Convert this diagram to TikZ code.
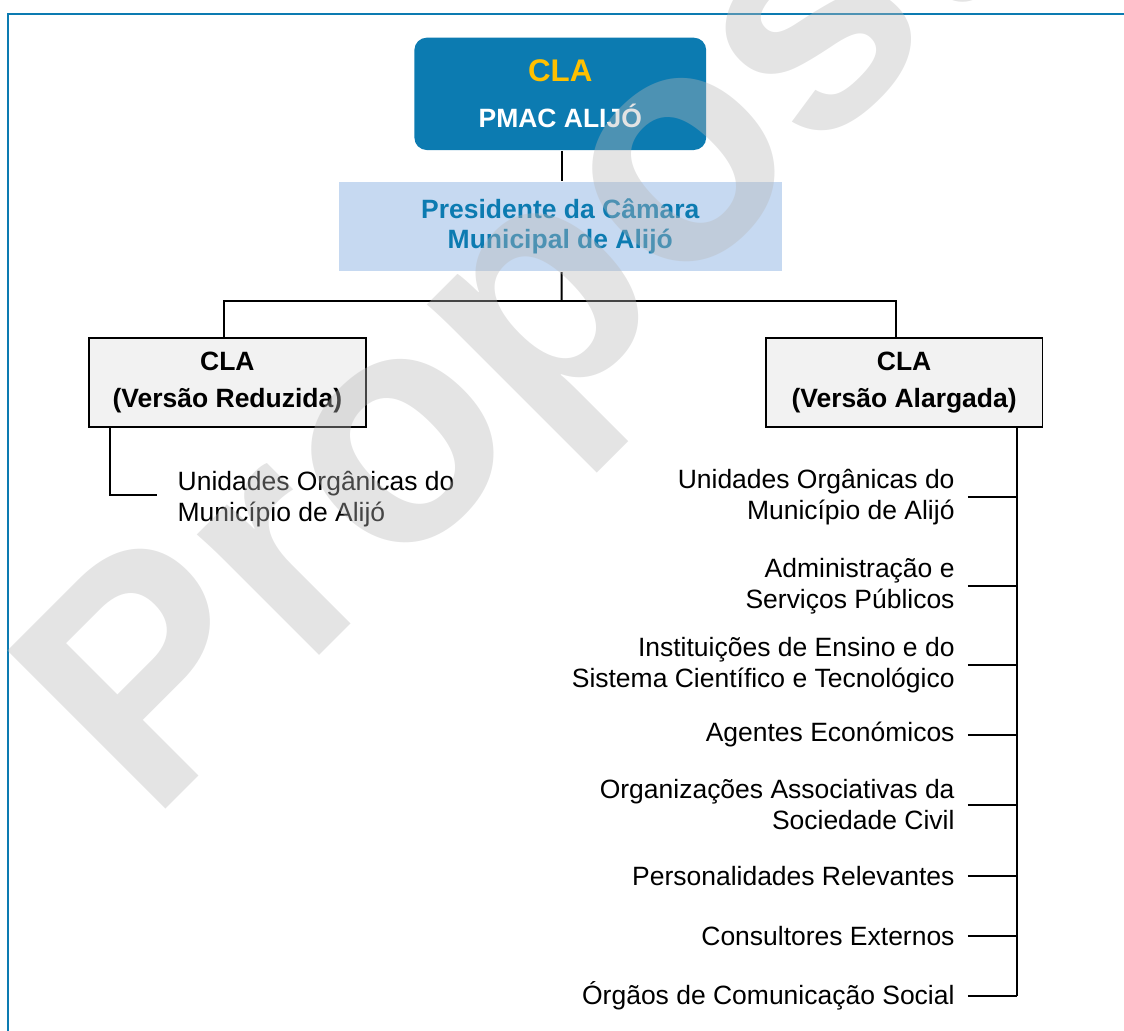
\documentclass[tikz,border=0pt]{standalone}
\usepackage{fontspec}
\setmainfont{Liberation Sans}
\usetikzlibrary{positioning}

\definecolor{clablue}{RGB}{12,123,177}
\definecolor{clayellow}{RGB}{255,192,0}
\definecolor{presfill}{RGB}{198,217,241}
\definecolor{boxfill}{RGB}{242,242,242}
\definecolor{wmgray}{RGB}{184,184,184}

\tikzset{
  topbox/.style={fill=clablue, text=white, rounded corners=0.18cm, align=center,
    minimum width=4.26cm, minimum height=1.64cm, font=\bfseries\fontsize{11}{13}\selectfont},
  presbox/.style={fill=presfill, text=clablue, align=center,
    minimum width=6.47cm, minimum height=1.30cm, font=\bfseries\fontsize{11}{12.5}\selectfont},
  versbox/.style={draw, fill=boxfill, align=center, line width=0.8pt,
    minimum width=4.04cm, minimum height=1.30cm, font=\bfseries\fontsize{11}{15.4}\selectfont},
  memberL/.style={anchor=west, align=left, inner xsep=0.29cm, inner ysep=0,
    font=\fontsize{11}{12.9}\selectfont},
  memberR/.style={anchor=east, align=right, inner xsep=0.18cm, inner ysep=0,
    font=\fontsize{11}{12.9}\selectfont},
  watermark/.style={rotate=45, anchor=base west, inner sep=0, text=wmgray,
    text opacity=0.38, font=\bfseries\fontsize{135}{135}\selectfont}
}

\begin{document}
\begin{tikzpicture}[line width=0.8pt]
  \useasboundingbox (0,0) rectangle (16.41,-15.04);
  \clip (0,0) rectangle (16.41,-15.04);

  % Page frame
  \draw[clablue, line width=0.9pt] (0.12,-15.5) -- (0.12,-0.2) -- (16.8,-0.2);

  % Top of the structure
  \node[topbox] (pmac) at (8.18,-1.37) {{\color{clayellow}\fontsize{13}{15}\selectfont CLA}\\[6pt]PMAC ALIJÓ};
  \node[presbox] (pres) at (8.18,-3.31) {Presidente da Câmara\\Municipal de Alijó};

  % The two versions
  \node[versbox] (redux) at (3.32,-5.58) {CLA\\(Versão Reduzida)};
  \node[versbox] (alarg) at (13.20,-5.58) {CLA\\(Versão Alargada)};

  \coordinate (split) at (8.20,-4.39);
  \draw ([xshift=0.02cm]pmac.south) -- ([xshift=0.02cm]pres.north);
  \draw ([xshift=0.02cm]pres.south) -- (split);
  \draw ([xshift=-0.05cm]redux.north) |- (split) -| ([xshift=-0.12cm]alarg.north);

  % Reduced version members
  \node[memberL] (uoL) at (2.29,-7.28) {Unidades Orgânicas do\\Município de Alijó};
  \draw ([xshift=-1.71cm]redux.south) |- ([yshift=0.05cm]uoL.west);

  % Extended version members
  \node[memberR] (uoR)  at (14.13,-7.26)  {Unidades Orgânicas do\\Município de Alijó};
  \node[memberR] (adm)  at (14.13,-8.56)  {Administração e\\Serviços Públicos};
  \node[memberR] (ens)  at (14.13,-9.71)  {Instituições de Ensino e do\\Sistema Científico e Tecnológico};
  \node[memberR] (age)  at (14.13,-10.73) {Agentes Económicos};
  \node[memberR] (org)  at (14.13,-11.75) {Organizações Associativas da\\Sociedade Civil};
  \node[memberR] (pers) at (14.13,-12.79) {Personalidades Relevantes};
  \node[memberR] (cons) at (14.13,-13.67) {Consultores Externos};
  \node[memberR] (ocs)  at (14.13,-14.54) {Órgãos de Comunicação Social};

  \coordinate (spine) at ([xshift=1.65cm]alarg.south);
  \draw (spine) -- (spine |- ocs.east);
  \draw (uoR.east) -- (uoR.east -| spine);
  \draw (adm.east) -- (adm.east -| spine);
  \draw (ens.east) -- (ens.east -| spine);
  \draw (age.east) -- (age.east -| spine);
  \draw (org.east) -- (org.east -| spine);
  \draw (pers.east) -- (pers.east -| spine);
  \draw (cons.east) -- (cons.east -| spine);
  \draw (ocs.east) -- (ocs.east -| spine);

  % Draft stamp
  \node[watermark] (stamp) at (2.19,-12.05) {Proposta};
\end{tikzpicture}
\end{document}
